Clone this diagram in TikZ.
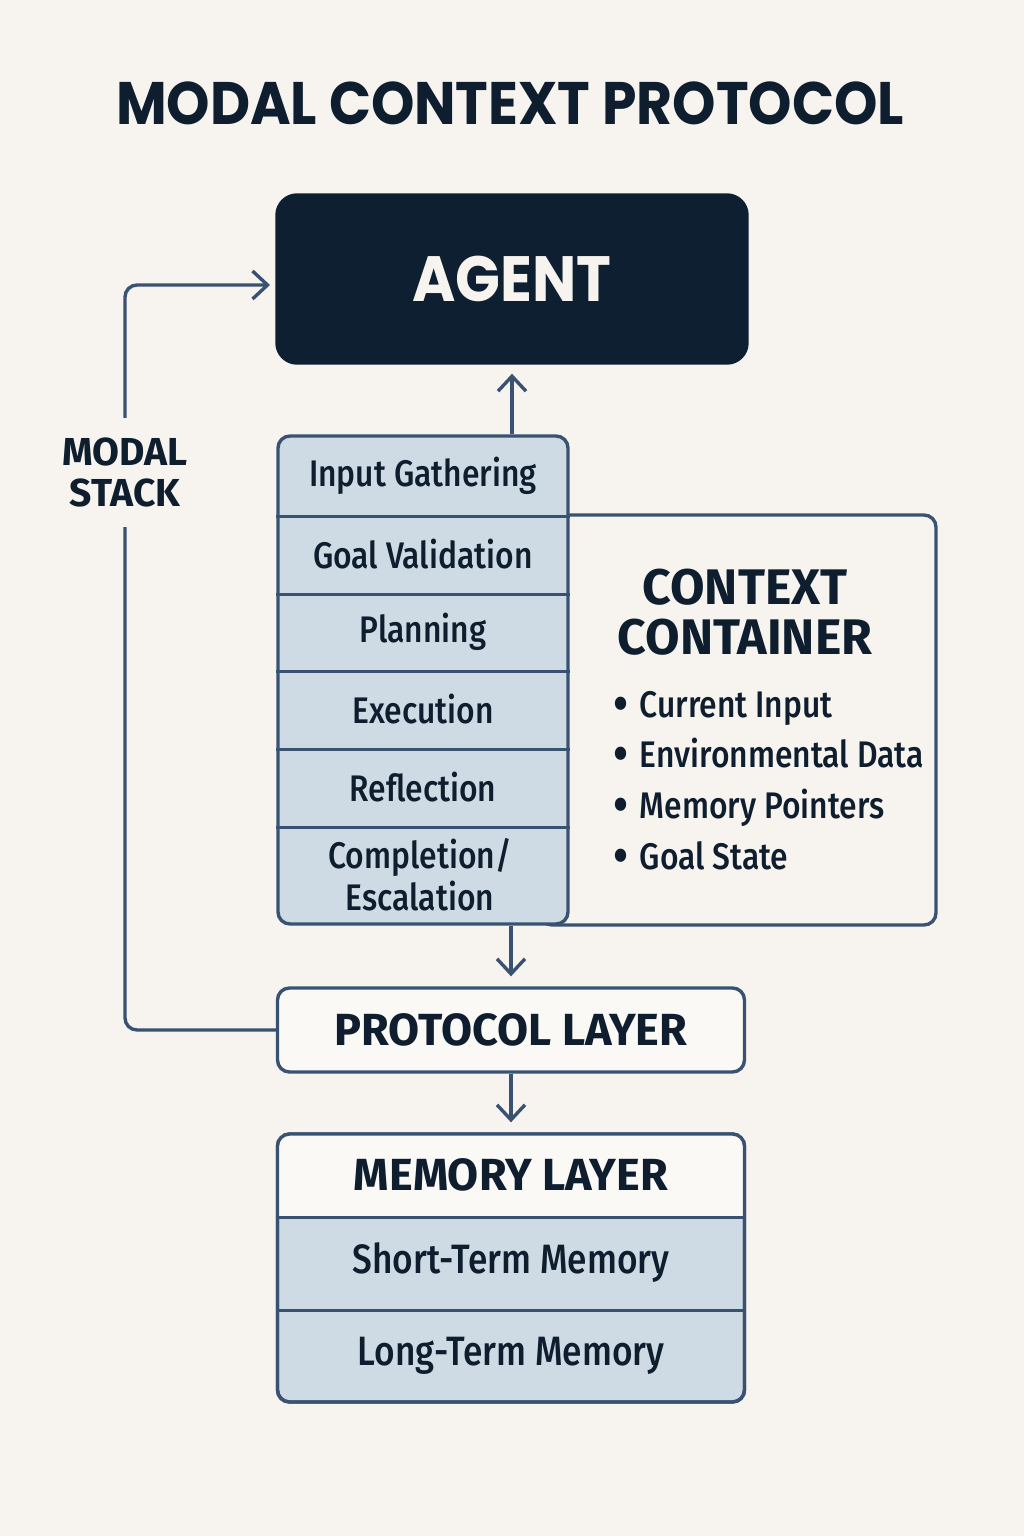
\documentclass[tikz,border=0pt]{standalone}
\usepackage{fontspec}
\setmainfont{Fira Sans}
\newfontfamily\headfont{Poppins}[FakeStretch=0.92]
\newfontfamily\condfont{Fira Sans Medium}[FakeStretch=0.86]
\newfontfamily\boldfont{Fira Sans}
\usetikzlibrary{arrows.meta}

\definecolor{paper}{HTML}{F7F4F0}
\definecolor{ink}{HTML}{0F1E2E}
\definecolor{navy}{HTML}{0E1F31}
\definecolor{edge}{HTML}{3A5272}
\definecolor{layerblue}{HTML}{CEDBE4}
\definecolor{boxwhite}{HTML}{FBF9F6}

\newcommand{\dotitem}{\makebox[13pt][l]{\raisebox{-2.2pt}[0pt][0pt]{\fontsize{26}{26}\selectfont •}}}

\begin{document}
\begin{tikzpicture}[x=0.5pt, y=-0.5pt, line width=1.7pt,
    >={Straight Barb[length=7.5pt,width=14pt]},
    frame/.style={draw=edge, rounded corners=6pt, inner sep=0pt},
    row/.style={inner sep=0pt, minimum width=145pt, text=ink,
      font=\condfont\fontsize{18.5}{21}\selectfont},
    memrow/.style={inner sep=0pt, minimum width=233.5pt, text=ink,
      font=\condfont\fontsize{20.5}{23}\selectfont},
    item/.style={anchor=base west, inner sep=0pt, text=ink,
      font=\condfont\fontsize{18.5}{22}\selectfont},
    heading/.style={text=ink, font=\boldfont\bfseries\fontsize{22.5}{24}\selectfont},
    arr/.style={->, draw=edge}]

  % page
  \fill[paper] (0,0) rectangle (1024,1536);
  \useasboundingbox (0,0) rectangle (1024,1536);

  % title
  \node[text=ink, font=\headfont\bfseries\fontsize{30}{30}\selectfont] (title) at (510,103) {MODAL CONTEXT PROTOCOL};

  % agent
  \node[frame, draw=navy, fill=navy, rounded corners=10pt, minimum width=235pt, minimum height=84pt,
    text=paper, font=\headfont\bfseries\fontsize{32}{32}\selectfont] (agent) at (512,279) {AGENT};

  % context container (left side hidden behind the stack)
  \node[frame, fill=paper, minimum width=198pt, minimum height=205pt] (ctx) at (738,720) {};
  \node[text=ink, align=center, font=\boldfont\bfseries\fontsize{25}{25}\selectfont] (ctxtitle) at (745,612) {CONTEXT\\CONTAINER};
  \node[item] (c1) at (612,717) {\dotitem Current Input};
  \node[item] (c2) at (612,767) {\dotitem Environmental Data};
  \node[item] (c3) at (612,818) {\dotitem Memory Pointers};
  \node[item] (c4) at (612,869) {\dotitem Goal State};

  % modal stack
  \node[frame, fill=layerblue, minimum width=145pt, minimum height=244pt] (stack) at (423,680) {};
  \node[row, minimum height=39.5pt] (s1) at (423,475.5) {Input Gathering};
  \node[row, minimum height=39pt] (s2) at (423,554) {Goal Validation};
  \node[row, minimum height=38.5pt] (s3) at (423,631.5) {Planning};
  \node[row, minimum height=39pt] (s4) at (423,709) {Execution};
  \node[row, minimum height=39pt] (s5) at (423,787) {Reflection};
  \node[row, minimum height=49pt, align=center] (s6) at (420,875) {Completion/\\Escalation};
  \draw[edge] (s1.south west) -- (s1.south east);
  \draw[edge] (s2.south west) -- (s2.south east);
  \draw[edge] (s3.south west) -- (s3.south east);
  \draw[edge] (s4.south west) -- (s4.south east);
  \draw[edge] (s5.south west) -- (s5.south east);

  % protocol layer
  \node[frame, fill=boxwhite, minimum width=233.5pt, minimum height=42pt] (proto) at (511,1030) {};
  \node[heading] (protolabel) at (511,1030) {PROTOCOL LAYER};

  % memory layer
  \node[frame, fill=layerblue, minimum width=233.5pt, minimum height=134pt] (mem) at (511,1268) {};
  \begin{scope}
    \clip[rounded corners=6pt] (mem.south west) rectangle (mem.north east);
    \fill[boxwhite] (278,1134) rectangle (745,1216);
  \end{scope}
  \node[frame, minimum width=233.5pt, minimum height=134pt] at (mem) {};
  \node[heading, memrow, font=\boldfont\bfseries\fontsize{22.5}{24}\selectfont, minimum height=41pt] (m0) at (511,1175) {MEMORY LAYER};
  \node[memrow, minimum height=46.5pt] (m1) at (511,1262.5) {Short-Term Memory};
  \node[memrow, minimum height=46.5pt] (m2) at (511,1355.5) {Long-Term Memory};
  \draw[edge] (m0.south west) -- (m0.south east);
  \draw[edge] (m1.south west) -- (m1.south east);

  % connectors
  \draw[arr, shorten >=4.5pt] (stack.north -| agent.south) -- (agent.south);
  \draw[arr, shorten >=5pt] (stack.south -| proto.north) -- (proto.north);
  \draw[arr, shorten >=5pt] (proto.south) -- (mem.north);

  % loop back to the agent
  \coordinate (loopin) at (270,285);
  \draw[arr, rounded corners=6pt] (proto.west) -- (125,1030) -- (125,285) -- (loopin);
  \node[fill=paper, minimum height=54.5pt, inner sep=0pt, align=center, text=ink,
    font=\boldfont\bfseries\fontsize{19.5}{20.5}\selectfont] (modal) at (125,472.5) {MODAL\\STACK};
\end{tikzpicture}
\end{document}
